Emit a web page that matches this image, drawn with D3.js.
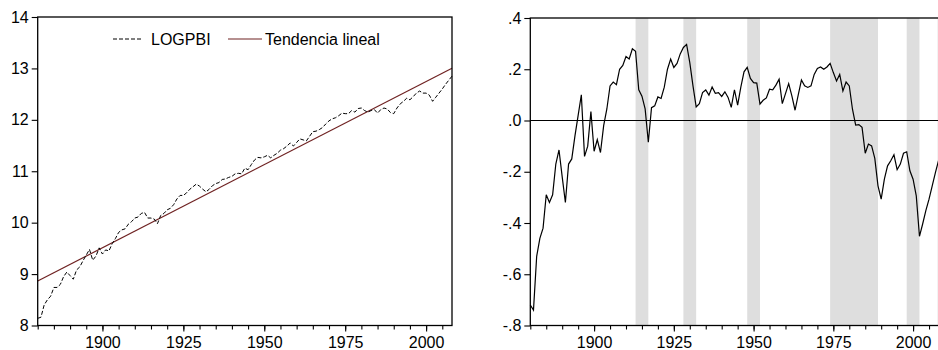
<!DOCTYPE html>
<html>
<head>
<meta charset="utf-8">
<script src="https://cdn.jsdelivr.net/npm/d3@7"></script>
<style>
body { margin: 0; background: #fff; }
svg { display: block; font-family: Arial, "Liberation Sans", sans-serif; }
</style>
</head>
<body>
<svg id="chart" width="938" height="350"></svg>
<script>
var firstYear = 1880;

// log of GDP, 1880-2008
var logpbi = [
    8.14, 8.16, 8.40, 8.50, 8.57, 8.74, 8.74, 8.80, 8.95, 9.04,
    8.97, 8.90, 9.08, 9.14, 9.26, 9.37, 9.48, 9.27, 9.35, 9.51,
    9.39, 9.47, 9.45, 9.59, 9.69, 9.81, 9.86, 9.88, 9.97, 10.02,
    10.09, 10.11, 10.18, 10.20, 10.09, 10.09, 10.07, 9.98, 10.14, 10.18,
    10.25, 10.28, 10.35, 10.46, 10.53, 10.53, 10.58, 10.65, 10.70, 10.75,
    10.71, 10.65, 10.60, 10.65, 10.72, 10.76, 10.78, 10.84, 10.85, 10.88,
    10.90, 10.95, 10.96, 10.95, 11.06, 11.03, 11.13, 11.22, 11.27, 11.26,
    11.28, 11.31, 11.26, 11.31, 11.35, 11.41, 11.44, 11.49, 11.55, 11.49,
    11.56, 11.63, 11.61, 11.59, 11.68, 11.77, 11.78, 11.81, 11.85, 11.92,
    11.98, 12.02, 12.04, 12.08, 12.13, 12.12, 12.12, 12.18, 12.15, 12.22,
    12.23, 12.18, 12.15, 12.18, 12.20, 12.13, 12.20, 12.23, 12.21, 12.14,
    12.12, 12.23, 12.31, 12.36, 12.42, 12.39, 12.45, 12.52, 12.56, 12.52,
    12.52, 12.48, 12.36, 12.44, 12.52, 12.60, 12.69, 12.77, 12.85
];

// deviation from the linear trend, 1880-2008
var gap = [
    -0.72, -0.74, -0.53, -0.46, -0.42, -0.29, -0.32, -0.29, -0.17, -0.115,
    -0.22, -0.32, -0.17, -0.15, -0.06, 0.02, 0.10, -0.14, -0.10, 0.035,
    -0.12, -0.075, -0.125, -0.02, 0.045, 0.135, 0.15, 0.14, 0.20, 0.215,
    0.25, 0.24, 0.28, 0.27, 0.12, 0.095, 0.045, -0.085, 0.05, 0.057,
    0.092, 0.086, 0.13, 0.20, 0.24, 0.207, 0.223, 0.26, 0.285, 0.297,
    0.226, 0.135, 0.053, 0.066, 0.109, 0.119, 0.099, 0.131, 0.106, 0.109,
    0.094, 0.112, 0.09, 0.051, 0.12, 0.06, 0.13, 0.19, 0.207, 0.164,
    0.148, 0.146, 0.064, 0.079, 0.088, 0.122, 0.12, 0.138, 0.161, 0.066,
    0.105, 0.144, 0.096, 0.04, 0.10, 0.158, 0.135, 0.129, 0.135, 0.18,
    0.203, 0.209, 0.20, 0.209, 0.223, 0.187, 0.154, 0.18, 0.115, 0.15,
    0.135, 0.044, -0.018, -0.016, -0.027, -0.128, -0.092, -0.099, -0.148, -0.255,
    -0.307, -0.229, -0.177, -0.157, -0.134, -0.192, -0.17, -0.128, -0.122, -0.196,
    -0.229, -0.294, -0.452, -0.404, -0.352, -0.307, -0.255, -0.203, -0.155
];

var trendYears = [1880, 2008];
var trendValues = [8.865, 13.005];

var recessions = [[1913, 1917], [1928, 1932], [1948, 1952], [1974, 1989], [1998, 2002]];

var leftTicks = [8, 9, 10, 11, 12, 13, 14];
var leftTickLabels = ['8', '9', '10', '11', '12', '13', '14'];
var rightTicks = [-0.8, -0.6, -0.4, -0.2, 0, 0.2, 0.4];
var rightTickLabels = ['-.8', '-.6', '-.4', '-.2', '.0', '.2', '.4'];
var yearTicks = [1900, 1925, 1950, 1975, 2000];
var minorYearTicks = [1880, 1885, 1890, 1895, 1900, 1905, 1910, 1915, 1920, 1925, 1930, 1935,
    1940, 1945, 1950, 1955, 1960, 1965, 1970, 1975, 1980, 1985, 1990, 1995, 2000, 2005];
var legendLabels = ['LOGPBI', 'Tendencia lineal'];

var TREND_COLOR = '#6f2222';
var SHADE_COLOR = '#dedede';

var svg = d3.select('#chart');

function yearOf(i) { return firstYear + i; }

function drawXAxis(g, x, bottom) {
    g.append('g')
        .attr('transform', 'translate(0,' + bottom + ')')
        .call(d3.axisBottom(x).tickValues(minorYearTicks).tickSize(4).tickFormat(''))
        .call(function (a) { a.select('.domain').remove(); });

    var major = g.append('g')
        .attr('transform', 'translate(0,' + bottom + ')')
        .call(d3.axisBottom(x).tickValues(yearTicks).tickSize(6).tickPadding(5).tickFormat(d3.format('d')));
    major.select('.domain').remove();
    major.selectAll('text').attr('font-size', 16).attr('fill', '#000').attr('font-family', null);
    g.selectAll('.tick line').attr('stroke', '#000').attr('stroke-width', 1.1);
}

function drawYAxis(g, y, left, ticks, labels) {
    var ax = g.append('g')
        .attr('transform', 'translate(' + left + ',0)')
        .call(d3.axisLeft(y).tickValues(ticks).tickSize(6).tickPadding(3)
            .tickFormat(function (d, i) { return labels[i]; }));
    ax.select('.domain').remove();
    ax.selectAll('text').attr('font-size', 16).attr('fill', '#000').attr('font-family', null);
    ax.selectAll('.tick line').attr('stroke', '#000').attr('stroke-width', 1.1);
}

function renderLeft() {
    var box = { left: 37.7, right: 452, top: 17, bottom: 325.5 };
    var g = svg.append('g');
    var x = d3.scaleLinear().domain([1880, 2008]).range([box.left, box.right]);
    var y = d3.scaleLinear().domain([8, 14]).range([box.bottom, box.top]);

    var line = d3.line()
        .x(function (d, i) { return x(yearOf(i)); })
        .y(function (d) { return y(d); });

    g.append('path')
        .datum(trendValues)
        .attr('d', d3.line()
            .x(function (d, i) { return x(trendYears[i]); })
            .y(function (d) { return y(d); }))
        .attr('fill', 'none')
        .attr('stroke', TREND_COLOR)
        .attr('stroke-width', 1.2);

    g.append('path')
        .datum(logpbi)
        .attr('d', line)
        .attr('fill', 'none')
        .attr('stroke', '#000')
        .attr('stroke-width', 1)
        .attr('stroke-dasharray', '4,2');

    g.append('rect')
        .attr('x', box.left).attr('y', box.top)
        .attr('width', box.right - box.left).attr('height', box.bottom - box.top)
        .attr('fill', 'none').attr('stroke', '#000').attr('stroke-width', 1.3);

    drawYAxis(g, y, box.left, leftTicks, leftTickLabels);
    drawXAxis(g, x, box.bottom);

    // legend
    var legend = g.append('g').attr('font-size', 16);
    legend.append('line')
        .attr('x1', 113).attr('x2', 143).attr('y1', 39).attr('y2', 39)
        .attr('stroke', '#000').attr('stroke-dasharray', '4,2');
    legend.append('text').attr('x', 151).attr('y', 44.5).text(legendLabels[0]);
    legend.append('line')
        .attr('x1', 228).attr('x2', 262).attr('y1', 39).attr('y2', 39)
        .attr('stroke', TREND_COLOR).attr('stroke-width', 1.2);
    legend.append('text').attr('x', 265).attr('y', 44.5).text(legendLabels[1]);
}

function renderRight() {
    var box = { left: 530.3, right: 938.6, top: 18, bottom: 325.5 };
    var g = svg.append('g');
    var x = d3.scaleLinear().domain([1880, 2008]).range([box.left, box.right]);
    var y = d3.scaleLinear().domain([-0.8, 0.4]).range([box.bottom, box.top]);

    g.selectAll('rect.shade')
        .data(recessions)
        .enter().append('rect')
        .attr('class', 'shade')
        .attr('x', function (d) { return x(d[0]); })
        .attr('width', function (d) { return x(d[1]) - x(d[0]); })
        .attr('y', box.top)
        .attr('height', box.bottom - box.top)
        .attr('fill', SHADE_COLOR);

    g.append('line')
        .attr('x1', box.left).attr('x2', box.right)
        .attr('y1', y(0)).attr('y2', y(0))
        .attr('stroke', '#000').attr('stroke-width', 1.1);

    g.append('path')
        .datum(gap)
        .attr('d', d3.line()
            .x(function (d, i) { return x(yearOf(i)); })
            .y(function (d) { return y(d); }))
        .attr('fill', 'none')
        .attr('stroke', '#000')
        .attr('stroke-width', 1.2);

    g.append('rect')
        .attr('x', box.left).attr('y', box.top)
        .attr('width', box.right - box.left).attr('height', box.bottom - box.top)
        .attr('fill', 'none').attr('stroke', '#000').attr('stroke-width', 1.3);

    drawYAxis(g, y, box.left, rightTicks, rightTickLabels);
    drawXAxis(g, x, box.bottom);
}

renderLeft();
renderRight();
</script>
</body>
</html>
